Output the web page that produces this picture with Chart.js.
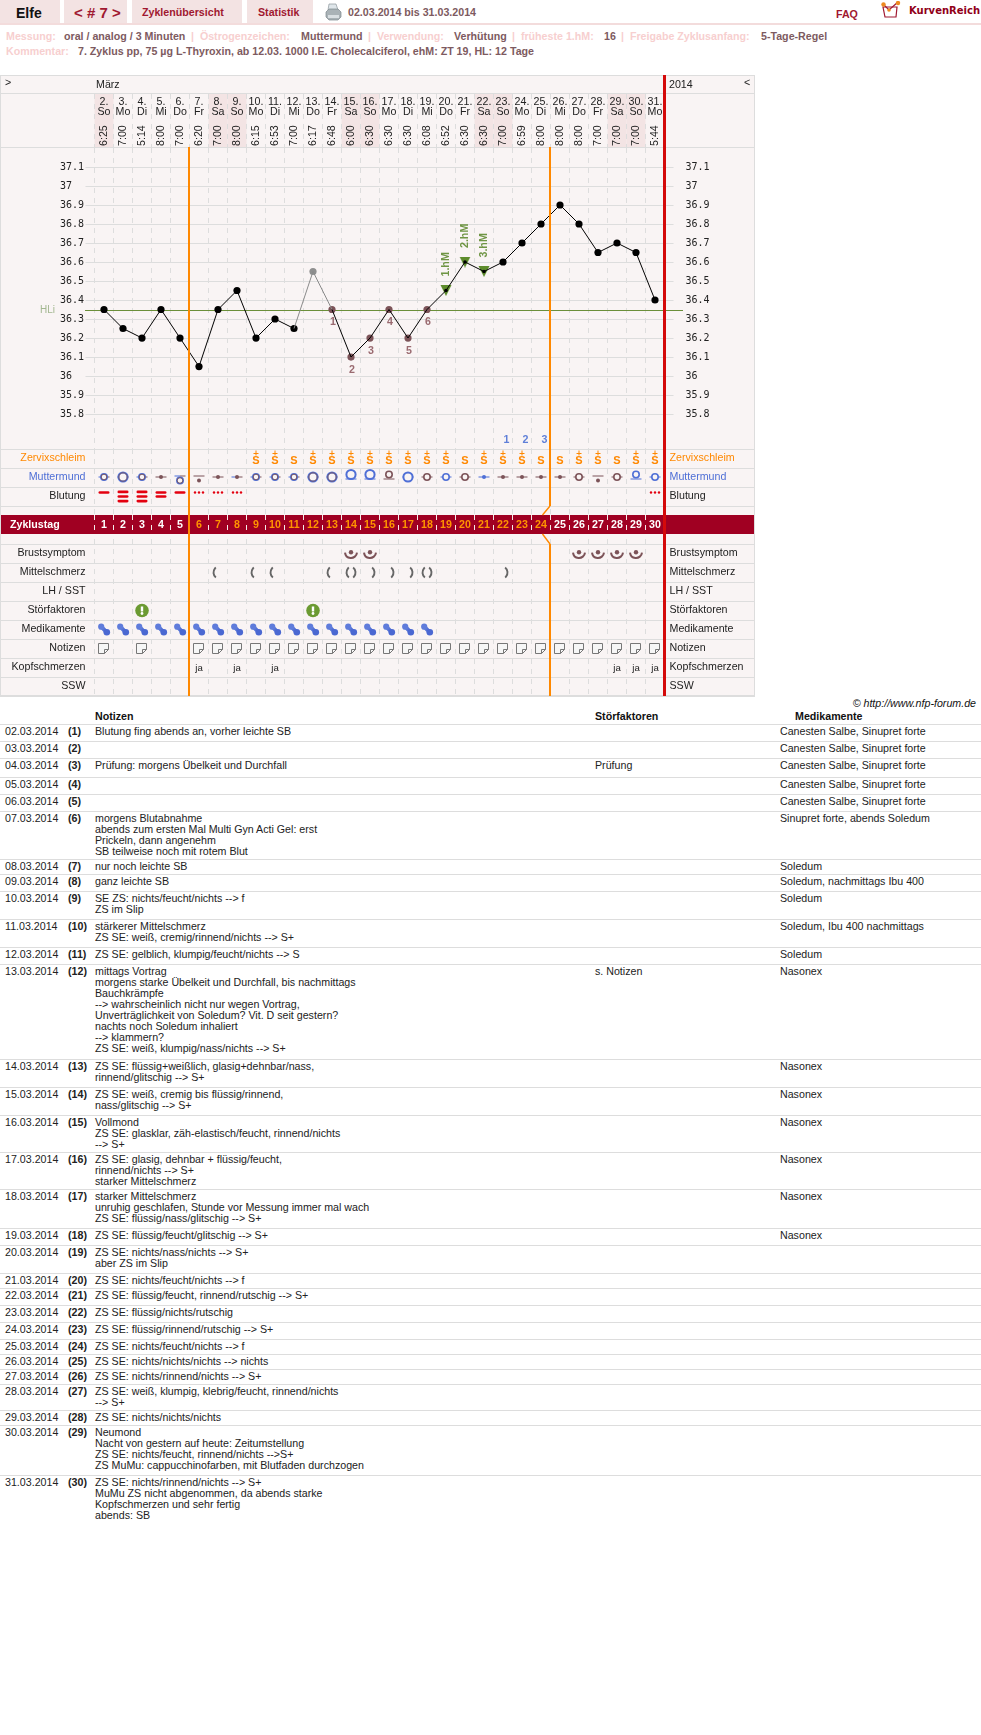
<!DOCTYPE html>
<html lang="de">
<head>
<meta charset="utf-8">
<title>Elfe - Zyklus 7</title>
<script src="https://cdn.jsdelivr.net/npm/chart.js@4"></script>
<style>
  html, body { margin: 0; padding: 0; background: #fff; }
  body { position: relative; width: 981px; height: 1735px; overflow: hidden;
         font: 10.67px/11px "Liberation Sans", Arial, sans-serif; color: #222; }
  .abs { position: absolute; white-space: pre; }
  .tab { position: absolute; top: 0; height: 23px; background: #f3e3e3; }
  .lbl { color: #f7cfcf; font-weight: bold; }
  .val { color: #7d5a60; font-weight: bold; }
  .rule { position: absolute; left: 0; width: 981px; height: 1px; background: #ddd; }
  #panel { position: absolute; left: 0; top: 75px; width: 753px; height: 620px;
           border: 1px solid #ddd; background: #f9f4f4; }
  canvas { position: absolute; left: 0; display: block; }
</style>
</head>
<body>
<div class="tab" style="left:0;width:60px"></div>
<div class="tab" style="left:64px;width:63px"></div>
<div class="tab" style="left:132px;width:110px"></div>
<div class="tab" style="left:247px;width:66px"></div>
<div class="abs" style="left:0;top:23px;width:981px;height:2px;background:#f3dcdc"></div>
<div class="abs" style="left:16px;top:5px;font:bold 14px/16px 'Liberation Sans';color:#111">Elfe</div>
<div class="abs" style="left:74px;top:4px;font:bold 15px/17px 'Liberation Sans';color:#a01830">&lt; # 7 &gt;</div>
<div class="abs" style="left:142px;top:6px;font:bold 10.67px/12px 'Liberation Sans';color:#a01830">Zyklenübersicht</div>
<div class="abs" style="left:258px;top:6px;font:bold 10.67px/12px 'Liberation Sans';color:#a01830">Statistik</div>
<svg class="abs" style="left:325px;top:3px" width="17" height="18" viewBox="0 0 17 18">
  <path d="M4 1h7l2 6H3z" fill="#dfe6ea" stroke="#8c979c" stroke-width=".7"/>
  <path d="M1 9l3-3h9l3 3v5l-3 3H4l-3-3z" fill="#a9b2b6" stroke="#7d878c" stroke-width=".7"/>
  <path d="M3 12h11v3H3z" fill="#d9dfe2"/>
</svg>
<div class="abs val" style="left:348px;top:6px;line-height:12px">02.03.2014 bis 31.03.2014</div>
<div class="abs" style="left:836px;top:8px;font:bold 10.67px/12px 'Liberation Sans';color:#a01830">FAQ</div>
<svg class="abs" style="left:881px;top:1px" width="20" height="17" viewBox="0 0 20 17">
  <path d="M2 6h14l-1 10H4z" fill="#fff" stroke="#a01830" stroke-width="1.2"/>
  <path d="M2 3l6 6 9-8" fill="none" stroke="#a01830" stroke-width="1.2"/>
  <circle cx="2.5" cy="3.5" r="2.2" fill="#ee8a20"/><circle cx="8" cy="9" r="1.8" fill="#ee8a20"/><circle cx="17" cy="2" r="2.2" fill="#ee8a20"/>
</svg>
<div class="abs" style="left:909px;top:4px;font:bold 10px/13px 'DejaVu Sans';color:#900018">KurvenReich</div>

<div class="abs lbl" style="left:6px;top:31px">Messung:</div>
<div class="abs val" style="left:64px;top:31px">oral / analog / 3 Minuten</div>
<div class="abs lbl" style="left:191px;top:31px">|  Östrogenzeichen:</div>
<div class="abs val" style="left:301px;top:31px">Muttermund</div>
<div class="abs lbl" style="left:368px;top:31px">|  Verwendung:</div>
<div class="abs val" style="left:454px;top:31px">Verhütung</div>
<div class="abs lbl" style="left:512px;top:31px">|  früheste 1.hM:</div>
<div class="abs val" style="left:604px;top:31px">16</div>
<div class="abs lbl" style="left:621px;top:31px">|  Freigabe Zyklusanfang:</div>
<div class="abs val" style="left:761px;top:31px">5-Tage-Regel</div>
<div class="abs lbl" style="left:6px;top:46px">Kommentar:</div>
<div class="abs val" style="left:78px;top:46px">7. Zyklus pp, 75 µg L-Thyroxin, ab 12.03. 1000 I.E. Cholecalciferol, ehM: ZT 19, HL: 12 Tage</div>

<div id="panel"></div>
<canvas id="tempChart" width="755" height="374" style="top:75px"></canvas>
<canvas id="rowChart" width="755" height="247" style="top:449px"></canvas>

<div class="abs" style="right:5px;top:698px;font-style:italic;color:#111">© http://www.nfp-forum.de</div>
<div class="abs" style="left:95px;top:711px;font-weight:bold;color:#111">Notizen</div>
<div class="abs" style="left:595px;top:711px;font-weight:bold;color:#111">Störfaktoren</div>
<div class="abs" style="left:795px;top:711px;font-weight:bold;color:#111">Medikamente</div>
<div id="notes"></div>

<script>
// --- Zyklusdaten ---

const DAY_NUMBERS = [2, 3, 4, 5, 6, 7, 8, 9, 10, 11, 12, 13, 14, 15, 16, 17, 18, 19, 20, 21, 22, 23, 24, 25, 26, 27, 28, 29, 30, 31];
const WEEKDAYS = ["So", "Mo", "Di", "Mi", "Do", "Fr", "Sa", "So", "Mo", "Di", "Mi", "Do", "Fr", "Sa", "So", "Mo", "Di", "Mi", "Do", "Fr", "Sa", "So", "Mo", "Di", "Mi", "Do", "Fr", "Sa", "So", "Mo"];
const TIMES = ["6:25", "7:00", "5:14", "8:00", "7:00", "6:20", "7:00", "8:00", "6:15", "6:53", "7:00", "6:17", "6:48", "6:00", "6:30", "6:30", "6:30", "6:08", "6:52", "6:30", "6:30", "7:00", "6:59", "8:00", "8:00", "8:00", "7:00", "7:00", "7:00", "5:44"];
const CYCLE_DAYS = DAY_NUMBERS.map((d, i) => String(i + 1));

const TEMPS = [36.35, 36.25, 36.2, 36.35, 36.2, 36.05, 36.35, 36.45, 36.2, 36.3, 36.25, 36.55, 36.35, 36.1, 36.2, 36.35, 36.2, 36.35, 36.45, 36.6, 36.55, 36.6, 36.7, 36.8, 36.9, 36.8, 36.65, 36.7, 36.65, 36.4];
const TEMP_TICKS = [37.1, 37, 36.9, 36.8, 36.7, 36.6, 36.5, 36.4, 36.3, 36.2, 36.1, 36, 35.9, 35.8];
const COVER_LINE = 36.35;
const EXCLUDED_DAYS = [12];
const LOW_DAYS = [13, 14, 15, 16, 17, 18];
const LOW_LABELS = ["1", "2", "3", "4", "5", "6"];
const HIGH_DAYS = [19, 20, 21];
const HIGH_LABELS = ["1.hM", "2.hM", "3.hM"];
const PEAK_COUNT_DAYS = [22, 23, 24];
const PEAK_COUNT_LABELS = ["1", "2", "3"];
const PHASE_ENDS = [5, 24];

const ROW_LABELS = ["Zervixschleim", "Muttermund", "Blutung", "Brustsymptom", "Mittelschmerz", "LH / SST", "Störfaktoren", "Medikamente", "Notizen", "Kopfschmerzen", "SSW"];
const ROW_CENTERS = [0.5, 1.5, 2.5, 5.5, 6.5, 7.5, 8.5, 9.5, 10.5, 11.5, 12.5];
const ROW_LINES = [0, 1, 2, 3, 5, 6, 7, 8, 9, 10, 11, 12, 13];

const ZERVIX = ["", "", "", "", "", "", "", "", "S+", "S+", "S", "S+", "S+", "S+", "S+", "S+", "S+", "S+", "S+", "S", "S+", "S+", "S+", "S", "S", "S+", "S+", "S", "S+", "S+"];
const MM_OPENING = [1, 2, 1, 0, 1, 0, 0, 0, 1, 1, 1, 2, 2, 2, 2, 1, 2, 1, 1, 1, 0, 0, 0, 0, 0, 1, 0, 1, 1, 1];
const MM_POSITION = [0, 0, 0, 0, -1, -1, 0, 0, 0, 0, 0, 0, 0, 1, 1, 1, 0, 0, 0, 0, 0, 0, 0, 0, 0, 0, -1, 0, 1, 0];
const MM_TONE = ["m", "m", "m", "r", "m", "r", "r", "m", "m", "m", "m", "m", "m", "b", "b", "r", "b", "r", "b", "r", "b", "r", "r", "r", "r", "r", "r", "r", "b", "b"];
const BLEEDING = [1, 3, 3, 2, 1, "s", "s", "s", 0, 0, 0, 0, 0, 0, 0, 0, 0, 0, 0, 0, 0, 0, 0, 0, 0, 0, 0, 0, 0, "s"];
const BREAST_DAYS = [14, 15, 26, 27, 28, 29];
const MITTEL = ["", "", "", "", "", "", "l", "", "l", "l", "", "", "l", "b", "r", "r", "r", "b", "", "", "", "r", "", "", "", "", "", "", "", ""];
const DISTURB_DAYS = [3, 12];
const MED_DAYS = [1, 2, 3, 4, 5, 6, 7, 8, 9, 10, 11, 12, 13, 14, 15, 16, 17, 18];
const NOTE_DAYS = [1, 3, 6, 7, 8, 9, 10, 11, 12, 13, 14, 15, 16, 17, 18, 19, 20, 21, 22, 23, 24, 25, 26, 27, 28, 29, 30];
const HEADACHE_DAYS = [6, 8, 10, 28, 29, 30];

const CANESTEN = "Canesten Salbe, Sinupret forte";
const NOTES = [
  "Blutung fing abends an, vorher leichte SB",
  "",
  "Prüfung: morgens Übelkeit und Durchfall",
  "",
  "",
  "morgens Blutabnahme\nabends zum ersten Mal Multi Gyn Acti Gel: erst\nPrickeln, dann angenehm\nSB teilweise noch mit rotem Blut",
  "nur noch leichte SB",
  "ganz leichte SB",
  "SE ZS: nichts/feucht/nichts --> f\nZS im Slip",
  "stärkerer Mittelschmerz\nZS SE: weiß, cremig/rinnend/nichts --> S+",
  "ZS SE: gelblich, klumpig/feucht/nichts --> S",
  "mittags Vortrag\nmorgens starke Übelkeit und Durchfall, bis nachmittags\nBauchkrämpfe\n--> wahrscheinlich nicht nur wegen Vortrag,\nUnverträglichkeit von Soledum? Vit. D seit gestern?\nnachts noch Soledum inhaliert\n--> klammern?\nZS SE: weiß, klumpig/nass/nichts --> S+",
  "ZS SE: flüssig+weißlich, glasig+dehnbar/nass,\nrinnend/glitschig --> S+",
  "ZS SE: weiß, cremig bis flüssig/rinnend,\nnass/glitschig --> S+",
  "Vollmond\nZS SE: glasklar, zäh-elastisch/feucht, rinnend/nichts\n--> S+",
  "ZS SE: glasig, dehnbar + flüssig/feucht,\nrinnend/nichts --> S+\nstarker Mittelschmerz",
  "starker Mittelschmerz\nunruhig geschlafen, Stunde vor Messung immer mal wach\nZS SE: flüssig/nass/glitschig --> S+",
  "ZS SE: flüssig/feucht/glitschig --> S+",
  "ZS SE: nichts/nass/nichts --> S+\naber ZS im Slip",
  "ZS SE: nichts/feucht/nichts --> f",
  "ZS SE: flüssig/feucht, rinnend/rutschig --> S+",
  "ZS SE: flüssig/nichts/rutschig",
  "ZS SE: flüssig/rinnend/rutschig --> S+",
  "ZS SE: nichts/feucht/nichts --> f",
  "ZS SE: nichts/nichts/nichts --> nichts",
  "ZS SE: nichts/rinnend/nichts --> S+",
  "ZS SE: weiß, klumpig, klebrig/feucht, rinnend/nichts\n--> S+",
  "ZS SE: nichts/nichts/nichts",
  "Neumond\nNacht von gestern auf heute: Zeitumstellung\nZS SE: nichts/feucht, rinnend/nichts -->S+\nZS MuMu: cappucchinofarben, mit Blutfaden durchzogen",
  "ZS SE: nichts/rinnend/nichts --> S+\nMuMu ZS nicht abgenommen, da abends starke\nKopfschmerzen und sehr fertig\nabends: SB",
];
const DISTURBANCES = { 3: "Prüfung", 12: "s. Notizen" };
const MEDS = [CANESTEN, CANESTEN, CANESTEN, CANESTEN, CANESTEN, "Sinupret forte, abends Soledum", "Soledum", "Soledum, nachmittags Ibu 400", "Soledum", "Soledum, Ibu 400 nachmittags", "Soledum", "Nasonex", "Nasonex", "Nasonex", "Nasonex", "Nasonex", "Nasonex", "Nasonex"];
const NOTE_ROW_TOPS = [724, 741, 758, 777, 794, 811, 859, 874, 891, 919, 947, 964, 1059, 1087, 1115, 1152, 1189, 1228, 1245, 1273, 1288, 1305, 1322, 1339, 1354, 1369, 1384, 1410, 1425, 1475];

// --- Farben ---

const GRID = "#dddddd";
const ORANGE = "#ff8800";
const RED = "#d40a0a";
const BLUE = "#4f6fd6";
const BROWN = "#7c5358";
const GREEN = "#6b8f3a";
const SANS = "'Liberation Sans', Arial, sans-serif";

Chart.defaults.font.family = SANS;
Chart.defaults.font.size = 10.67;
Chart.defaults.color = "#222";

// --- Notiztabelle ---

const notesEl = document.getElementById("notes");
NOTE_ROW_TOPS.forEach((top, i) => {
  const day = String(DAY_NUMBERS[i]).padStart(2, "0");
  const cell = (left, text, extra = "") =>
    text ? `<div class="abs" style="left:${left}px;top:${top + 2}px;${extra}">${text.replace(/>/g, "&gt;")}</div>` : "";
  notesEl.insertAdjacentHTML("beforeend",
    `<div class="rule" style="top:${top}px"></div>` +
    cell(5, `${day}.03.2014`) +
    cell(68, `(${i + 1})`, "font-weight:bold") +
    cell(95, NOTES[i]) +
    cell(595, DISTURBANCES[i + 1] || "") +
    cell(780, MEDS[i] || ""));
});

// --- Symbole ---

function makeIcon(w, h, draw) {
  const c = document.createElement("canvas");
  c.width = w;
  c.height = h;
  draw(c.getContext("2d"), w / 2, h / 2);
  return c;
}

const iconCache = {};
function cached(key, build) {
  if (!iconCache[key]) iconCache[key] = build();
  return iconCache[key];
}

const zervixIcon = code => cached("z" + code, () => makeIcon(12, 19, (g, cx, cy) => {
  g.fillStyle = ORANGE;
  g.font = `bold 11px ${SANS}`;
  g.textAlign = "center";
  g.textBaseline = "middle";
  g.fillText("S", cx, cy + 2.5);
  if (code === "S+") {
    g.fillRect(cx - 2.5, cy - 5.5, 5, 1);
    g.fillRect(cx - 0.5, cy - 8, 1, 5);
  }
}));

const mmIcon = (open, pos, tone) => cached(`m${open}${pos}${tone}`, () => makeIcon(20, 19, (g, cx, cy) => {
  const outer = tone === "r" ? BROWN : BLUE;
  const inner = tone === "b" ? BLUE : BROWN;
  const r = [2, 3.2, 4.6][open];
  let lineY = cy - 0.5;
  let ringY = cy - 0.5;
  if (pos === 1) { ringY = cy - 3; lineY = cy + 1.5; }
  if (pos === -1) { lineY = cy - 1.5; ringY = cy + 3; }
  g.fillStyle = outer;
  g.fillRect(cx - 5.5, lineY - 0.5, 5.5, 1);
  g.fillStyle = inner;
  g.fillRect(cx, lineY - 0.5, 5.5, 1);
  if (open === 0) {
    g.fillStyle = inner;
    g.beginPath();
    g.arc(cx, ringY, r, 0, Math.PI * 2);
    g.fill();
    return;
  }
  g.fillStyle = "#f9f4f4";
  g.beginPath();
  g.arc(cx, ringY, r, 0, Math.PI * 2);
  g.fill();
  g.lineWidth = open === 2 ? 2 : 1.6;
  g.strokeStyle = outer;
  g.stroke();
  if (tone === "m") {
    g.lineWidth = 0.9;
    g.strokeStyle = inner;
    g.beginPath();
    g.arc(cx, ringY, r - 0.4, 0, Math.PI * 2);
    g.stroke();
  }
}));

const bleedIcon = code => cached("b" + code, () => makeIcon(16, 19, (g, cx, cy) => {
  g.fillStyle = "#e3000f";
  if (code === "s") {
    [-4, 0, 4].forEach(dx => {
      g.beginPath();
      g.arc(cx + dx, cy - 4, 1.2, 0, Math.PI * 2);
      g.fill();
    });
    return;
  }
  const ys = { 1: [-4], 2: [-4, 0], 3: [-4.6, 0, 4.6] }[code];
  ys.forEach(dy => {
    g.beginPath();
    g.roundRect(cx - 5.5, cy + dy - 1.3, 11, 2.6, 1.3);
    g.fill();
  });
}));

const breastIcon = () => cached("brust", () => makeIcon(18, 17, (g, cx, cy) => {
  g.strokeStyle = BROWN;
  g.lineWidth = 2;
  g.beginPath();
  g.arc(cx, cy - 1.5, 6, 0.03 * Math.PI, 0.97 * Math.PI);
  g.stroke();
  g.fillStyle = BROWN;
  g.beginPath();
  g.arc(cx, cy - 1.2, 2.2, 0, Math.PI * 2);
  g.fill();
}));

const mittelIcon = code => cached("p" + code, () => makeIcon(16, 15, (g, cx, cy) => {
  g.strokeStyle = "#666";
  g.lineWidth = 1.9;
  if (code !== "r") {
    g.beginPath();
    g.arc(cx + 2, cy, 6.5, 0.72 * Math.PI, 1.28 * Math.PI);
    g.stroke();
  }
  if (code !== "l") {
    g.beginPath();
    g.arc(cx - 2, cy, 6.5, -0.28 * Math.PI, 0.28 * Math.PI);
    g.stroke();
  }
}));

const disturbIcon = () => cached("stoer", () => makeIcon(16, 15, (g, cx, cy) => {
  g.fillStyle = "#6b9a32";
  g.beginPath();
  g.arc(cx, cy, 6.8, 0, Math.PI * 2);
  g.fill();
  g.fillStyle = "#fff";
  g.fillRect(cx - 1.2, cy - 4, 2.4, 5);
  g.beginPath();
  g.arc(cx, cy + 3, 1.4, 0, Math.PI * 2);
  g.fill();
}));

const pillIcon = () => cached("pille", () => makeIcon(16, 15, (g, cx, cy) => {
  g.strokeStyle = "#5674d6";
  g.lineWidth = 4;
  g.beginPath();
  g.moveTo(cx - 2.8, cy - 2.8);
  g.lineTo(cx + 2.8, cy + 2.8);
  g.stroke();
  g.fillStyle = "#5f7cdb";
  g.beginPath();
  g.arc(cx - 2.8, cy - 2.8, 3.1, 0, Math.PI * 2);
  g.fill();
  g.fillStyle = "#4a68d2";
  g.beginPath();
  g.arc(cx + 2.8, cy + 2.8, 3.3, 0, Math.PI * 2);
  g.fill();
}));

const noteIcon = () => cached("notiz", () => makeIcon(14, 13, (g) => {
  g.fillStyle = "#f6f6f6";
  g.strokeStyle = "#777";
  g.lineWidth = 1;
  g.beginPath();
  g.moveTo(1.5, 1.5);
  g.lineTo(11.5, 1.5);
  g.lineTo(11.5, 7.5);
  g.lineTo(7.5, 11.5);
  g.lineTo(1.5, 11.5);
  g.closePath();
  g.fill();
  g.stroke();
  g.beginPath();
  g.moveTo(7.5, 11.5);
  g.lineTo(7.5, 7.5);
  g.lineTo(11.5, 7.5);
  g.stroke();
}));

const triangleIcon = cached("hm", () => makeIcon(12, 11, (g) => {
  g.fillStyle = "#5e8c2c";
  g.beginPath();
  g.moveTo(0.5, 0);
  g.lineTo(11.5, 0);
  g.lineTo(6, 11);
  g.closePath();
  g.fill();
}));

// --- Hilfsfunktionen fuer Canvas ---

function text(ctx, str, x, y, font, color, align = "center") {
  ctx.save();
  ctx.font = font;
  ctx.fillStyle = color;
  ctx.textAlign = align;
  ctx.textBaseline = "middle";
  ctx.fillText(str, x, y);
  ctx.restore();
}

function vrule(ctx, px, y1, y2, width, color) {
  ctx.fillStyle = color;
  ctx.fillRect(Math.floor(px) - Math.floor(width / 2), y1, width, y2 - y1);
}

const dayIndex = day => day - 1;

// --- Temperaturkurve ---

const tempPlugin = {
  id: "tempPlugin",
  beforeDraw(chart) {
    const { ctx, chartArea } = chart;
    const x = chart.scales.x;
    const headTop = 19;
    WEEKDAYS.forEach((wd, i) => {
      if (wd !== "Sa" && wd !== "So") return;
      ctx.fillStyle = "#f3e4e4";
      ctx.fillRect(x.getPixelForValue(i - 0.5), headTop, 19, chartArea.top - 1 - headTop);
    });
    ctx.save();
    ctx.strokeStyle = GRID;
    ctx.setLineDash([5, 5]);
    ctx.beginPath();
    for (let i = 0; i <= 30; i++) {
      const px = Math.floor(x.getPixelForValue(i - 0.5)) + 0.5;
      ctx.moveTo(px, headTop);
      ctx.lineTo(px, chartArea.top);
    }
    ctx.stroke();
    ctx.restore();
    ctx.fillStyle = GRID;
    ctx.fillRect(1, 18, 753, 1);
    ctx.fillRect(1, 72, 753, 1);
    text(ctx, ">", 5, 8, `10.67px ${SANS}`, "#222", "left");
    text(ctx, "März", 96, 10, `10.67px ${SANS}`, "#222", "left");
    text(ctx, "2014", 669, 10, `10.67px ${SANS}`, "#222", "left");
    text(ctx, "<", 744, 8, `10.67px ${SANS}`, "#222", "left");
  },
  beforeDatasetsDraw(chart) {
    const { ctx } = chart;
    const y = Math.round(chart.scales.y.getPixelForValue(COVER_LINE));
    ctx.fillStyle = GREEN;
    ctx.fillRect(85, y, 598, 1);
    text(ctx, "HLi", 40, y, `10px ${SANS}`, "#a3b790", "left");
  },
  afterDatasetsDraw(chart) {
    const { ctx, chartArea } = chart;
    const x = chart.scales.x;
    const y = chart.scales.y;
    PHASE_ENDS.forEach(d => vrule(ctx, x.getPixelForValue(d - 0.5), chartArea.top - 1, chartArea.bottom, 2, ORANGE));
    vrule(ctx, x.getPixelForValue(29.5), 0, chartArea.bottom, 3, RED);

    const boldSmall = `bold 10.67px ${SANS}`;
    LOW_DAYS.forEach((d, i) => {
      const i0 = dayIndex(d);
      text(ctx, LOW_LABELS[i], x.getPixelForValue(i0) + 1, y.getPixelForValue(TEMPS[i0]) + 13, boldSmall, "#9a6a70");
    });
    PEAK_COUNT_DAYS.forEach((d, i) => {
      text(ctx, PEAK_COUNT_LABELS[i], x.getPixelForValue(dayIndex(d)) + 3.5, chartArea.bottom - 9, boldSmall, "#5f7fd8");
    });
    HIGH_DAYS.forEach((d, i) => {
      const i0 = dayIndex(d);
      ctx.save();
      ctx.translate(x.getPixelForValue(i0), y.getPixelForValue(TEMPS[i0]) - 14);
      ctx.rotate(-Math.PI / 2);
      text(ctx, HIGH_LABELS[i], 0, 0, boldSmall, "#6f9544", "left");
      ctx.restore();
    });
  },
};

const tickFont = { family: "'DejaVu Sans Mono', monospace", size: 10 };

// Skalen-Innenabstand abschalten, sonst schrumpft die Zeichenflaeche um ticks.padding
function clearPadding(scale) {
  scale.paddingTop = 0;
  scale.paddingBottom = 0;
  scale.paddingLeft = 0;
  scale.paddingRight = 0;
}
const fixedWidth = w => scale => { scale.width = w; clearPadding(scale); };
const fixedHeight = h => scale => { scale.height = h; clearPadding(scale); };
const useTempTicks = scale => { scale.ticks = TEMP_TICKS.map(value => ({ value })); };
const isExcluded = i => EXCLUDED_DAYS.includes(i + 1);
const isLow = i => LOW_DAYS.includes(i + 1);
const isHigh = i => HIGH_DAYS.includes(i + 1);

new Chart(document.getElementById("tempChart"), {
  type: "line",
  data: {
    datasets: [
      {
        // Kurve liegt ueber den Markern, wie im Original
        data: TEMPS,
        order: 1,
        borderColor: "#000",
        borderWidth: 1,
        tension: 0,
        pointRadius: TEMPS.map((t, i) => (isHigh(i) ? 1.8 : 0)),
        pointBackgroundColor: "#000",
        pointBorderWidth: 0,
        segment: {
          borderColor: c => (isExcluded(c.p0DataIndex) || isExcluded(c.p1DataIndex) ? "#8a8a8a" : "#000"),
        },
      },
      {
        data: TEMPS,
        order: 2,
        showLine: false,
        pointRadius: 3.6,
        pointBorderWidth: 0,
        pointStyle: TEMPS.map((t, i) => (isHigh(i) ? triangleIcon : "circle")),
        pointBackgroundColor: TEMPS.map((t, i) => (isExcluded(i) ? "#8f8f8f" : isLow(i) ? BROWN : "#000")),
      },
    ],
  },
  plugins: [tempPlugin],
  options: {
    responsive: false,
    animation: false,
    events: [],
    devicePixelRatio: 1,
    // autoPadding aus: die Punktgroesse soll die Zeichenflaeche nicht verkleinern
    layout: { autoPadding: false, padding: { left: 60, top: 19, right: 0, bottom: 0 } },
    plugins: { legend: { display: false }, tooltip: { enabled: false } },
    scales: {
      x: {
        type: "category",
        position: "top",
        weight: 2,
        labels: DAY_NUMBERS.map((d, i) => [`${d}.`, WEEKDAYS[i]]),
        offset: true,
        afterFit: fixedHeight(27),
        border: { display: false, dash: [5, 5] },
        grid: { color: GRID, offset: true, drawTicks: false },
        ticks: {
          autoSkip: false,
          maxRotation: 0,
          padding: 4,
          color: "#222",
          font: { family: "'Liberation Sans Narrow', " + SANS, size: 10.67, lineHeight: "10px" },
        },
      },
      xTime: {
        type: "category",
        position: "top",
        weight: 1,
        labels: TIMES,
        offset: true,
        afterFit: fixedHeight(27),
        border: { display: false },
        grid: { display: false, drawTicks: false },
        ticks: {
          autoSkip: false,
          minRotation: 90,
          maxRotation: 90,
          padding: 2,
          labelOffset: 11,
          color: "#222",
          font: { size: 10.67, lineHeight: "11px" },
        },
      },
      y: {
        position: "left",
        min: 35.616,
        max: 37.2,
        afterFit: fixedWidth(34.5),
        afterBuildTicks: useTempTicks,
        border: { display: false },
        grid: { color: GRID, tickLength: 9 },
        ticks: { crossAlign: "far", autoSkip: false, color: "#222", font: tickFont, callback: v => String(v) },
      },
      yRight: {
        position: "right",
        min: 35.616,
        max: 37.2,
        afterFit: fixedWidth(90.5),
        afterBuildTicks: useTempTicks,
        border: { display: false },
        grid: { color: GRID, tickLength: 9, drawOnChartArea: false },
        ticks: { crossAlign: "near", padding: 12, autoSkip: false, color: "#222", font: tickFont, callback: v => String(v) },
      },
    },
  },
});

// --- Symbolzeilen unter der Kurve ---

const rowY = label => ROW_CENTERS[ROW_LABELS.indexOf(label)];

function symbolRow(label, values, iconFor) {
  const y = rowY(label);
  const data = [];
  const styles = [];
  values.forEach((v, i) => {
    if (!v) return;
    data.push({ x: CYCLE_DAYS[i], y });
    styles.push(iconFor(v, i));
  });
  return { data, showLine: false, pointStyle: styles, pointRadius: 5, pointBorderWidth: 0 };
}

const onDays = days => CYCLE_DAYS.map((d, i) => days.includes(i + 1));

const rowPlugin = {
  id: "rowPlugin",
  beforeDraw(chart) {
    const { ctx } = chart;
    const y = chart.scales.y;
    ctx.fillStyle = GRID;
    ROW_LINES.forEach(v => ctx.fillRect(1, Math.min(Math.round(y.getPixelForValue(v)), 246), 753, 1));
  },
  afterDatasetsDraw(chart) {
    const { ctx, chartArea } = chart;
    const x = chart.scales.x;
    const y = chart.scales.y;
    const bandTop = 66;
    const bandH = 19;
    const jog = PHASE_ENDS[1] - 0.5;
    const jogX = x.getPixelForValue(jog);

    // Farbband Zyklustag
    ctx.fillStyle = "#a00022";
    ctx.fillRect(1, bandTop, 753, bandH);
    ctx.save();
    ctx.strokeStyle = "#f4eaea";
    ctx.setLineDash([5, 5]);
    ctx.beginPath();
    for (let i = 0; i < 30; i++) {
      const px = Math.floor(x.getPixelForValue(i - 0.5)) + 0.5;
      ctx.moveTo(px, bandTop);
      ctx.lineTo(px, bandTop + bandH);
    }
    ctx.stroke();
    ctx.restore();
    text(ctx, "Zyklustag", 10, bandTop + 10, `bold 10.67px ${SANS}`, "#fff", "left");
    CYCLE_DAYS.forEach((d, i) => {
      const inPhase = i + 1 > PHASE_ENDS[0] && i + 1 <= PHASE_ENDS[1];
      text(ctx, d, x.getPixelForValue(i), bandTop + 10, `bold 10.67px ${SANS}`, inPhase ? "#ff9400" : "#fff");
    });

    // Phasenlinien
    vrule(ctx, x.getPixelForValue(PHASE_ENDS[0] - 0.5), 0, chartArea.bottom, 2, ORANGE);
    const lineBottom = y.getPixelForValue(3);
    vrule(ctx, jogX, 0, lineBottom, 2, ORANGE);
    vrule(ctx, jogX, y.getPixelForValue(5), chartArea.bottom, 2, ORANGE);
    ctx.strokeStyle = ORANGE;
    ctx.lineWidth = 1.4;
    ctx.beginPath();
    ctx.moveTo(jogX - 0.5, lineBottom);
    ctx.lineTo(jogX - 8, bandTop);
    ctx.moveTo(jogX - 8, bandTop + bandH);
    ctx.lineTo(jogX - 0.5, y.getPixelForValue(5));
    ctx.stroke();
    vrule(ctx, x.getPixelForValue(29.5), 0, chartArea.bottom, 3, RED);

    // Kopfschmerzen
    HEADACHE_DAYS.forEach(d => {
      text(ctx, "ja", x.getPixelForValue(dayIndex(d)), y.getPixelForValue(rowY("Kopfschmerzen")) + 1, `9.6px ${SANS}`, "#222");
    });
  },
};

const useRowTicks = scale => { scale.ticks = ROW_CENTERS.map(value => ({ value })); };
const rowColor = c => (c.index === 0 ? ORANGE : c.index === 1 ? BLUE : "#222");
const rowTickLabel = (v, i) => ROW_LABELS[i];

new Chart(document.getElementById("rowChart"), {
  type: "line",
  data: {
    labels: CYCLE_DAYS,
    datasets: [
      symbolRow("Zervixschleim", ZERVIX, v => zervixIcon(v)),
      symbolRow("Muttermund", MM_OPENING.map(() => true), (v, i) => mmIcon(MM_OPENING[i], MM_POSITION[i], MM_TONE[i])),
      symbolRow("Blutung", BLEEDING, v => bleedIcon(v)),
      symbolRow("Brustsymptom", onDays(BREAST_DAYS), breastIcon),
      symbolRow("Mittelschmerz", MITTEL, v => mittelIcon(v)),
      symbolRow("Störfaktoren", onDays(DISTURB_DAYS), disturbIcon),
      symbolRow("Medikamente", onDays(MED_DAYS), pillIcon),
      symbolRow("Notizen", onDays(NOTE_DAYS), noteIcon),
    ],
  },
  plugins: [rowPlugin],
  options: {
    responsive: false,
    animation: false,
    events: [],
    devicePixelRatio: 1,
    layout: { autoPadding: false, padding: 0 },
    plugins: { legend: { display: false }, tooltip: { enabled: false } },
    scales: {
      x: {
        type: "category",
        offset: true,
        afterFit: fixedHeight(0),
        border: { display: false, dash: [5, 5] },
        grid: { color: GRID, offset: true, drawTicks: false },
        ticks: { display: false },
      },
      y: {
        position: "left",
        reverse: true,
        min: 0,
        max: 13,
        afterFit: fixedWidth(94.5),
        afterBuildTicks: useRowTicks,
        border: { display: false },
        grid: { display: false, drawTicks: false },
        ticks: { crossAlign: "near", padding: 9, autoSkip: false, color: rowColor, callback: rowTickLabel },
      },
      yRight: {
        position: "right",
        reverse: true,
        min: 0,
        max: 13,
        afterFit: fixedWidth(90.5),
        afterBuildTicks: useRowTicks,
        border: { display: false },
        grid: { display: false, drawTicks: false },
        ticks: { crossAlign: "near", padding: 5, autoSkip: false, color: rowColor, callback: rowTickLabel },
      },
    },
  },
});
</script>
</body>
</html>
